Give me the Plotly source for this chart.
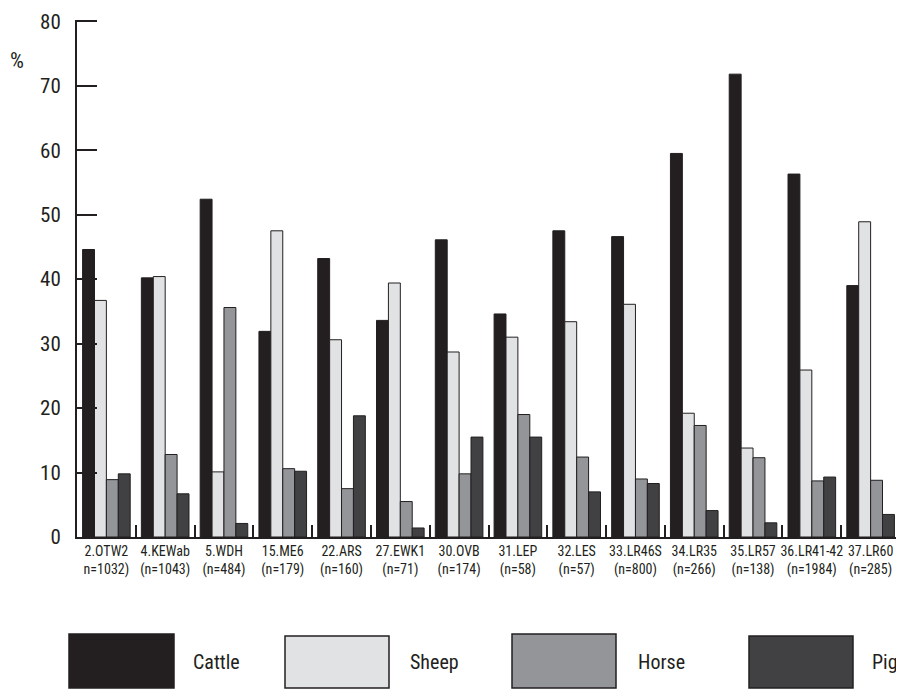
import plotly.graph_objects as go

sites = ["2.OTW2", "4.KEWab", "5.WDH", "15.ME6", "22.ARS", "27.EWK1", "30.OVB",
         "31.LEP", "32.LES", "33.LR46S", "34.LR35", "35.LR57", "36.LR41-42", "37.LR60"]
counts = ["n=1032)", "(n=1043)", "(n=484)", "(n=179)", "(n=160)", "(n=71)", "(n=174)",
          "(n=58)", "(n=57)", "(n=800)", "(n=266)", "(n=138)", "(n=1984)", "(n=285)"]

cattle = [44.6, 40.2, 52.4, 31.9, 43.2, 33.6, 46.1, 34.6, 47.5, 46.6, 59.5, 71.8, 56.3, 39.0]
sheep  = [36.7, 40.4, 10.1, 47.5, 30.6, 39.4, 28.7, 31.0, 33.4, 36.1, 19.2, 13.8, 25.9, 48.9]
horse  = [8.9, 12.8, 35.6, 10.6, 7.5, 5.5, 9.8, 19.0, 12.4, 9.0, 17.3, 12.3, 8.7, 8.8]
pig    = [9.8, 6.7, 2.1, 10.2, 18.8, 1.4, 15.5, 15.5, 7.0, 8.3, 4.1, 2.2, 9.3, 3.5]

series_names = ["Cattle", "Sheep", "Horse", "Pig"]
series_values = [cattle, sheep, horse, pig]
colors = ["#231f20", "#e1e2e4", "#939598", "#414042"]

y_ticks = [0, 10, 20, 30, 40, 50, 60, 70, 80]

cats = [f"{s}<br>{c}" for s, c in zip(sites, counts)]

FONT = "Liberation Sans Narrow, Roboto Condensed, Arial Narrow, Liberation Sans, sans-serif"
INK = "#231f20"

fig = go.Figure()
for name, vals, col in zip(series_names, series_values, colors):
    fig.add_trace(go.Bar(
        x=cats, y=vals, name=name,
        marker=dict(color=col, line=dict(color=INK, width=1)),
        showlegend=False,
    ))

# the page body has an 8px margin; work in page pixels and subtract it
OFF = 8
W, H = 904 - OFF, 693 - OFF
YMAX = 80.2
plot_left, plot_right, plot_bottom = 77 - OFF, 900 - OFF, 537 - OFF
ph = (537 - 11) * YMAX / 80
L, R, B = plot_left, W - plot_right, H - plot_bottom
T = plot_bottom - ph
pw = plot_right - plot_left


def px(x):
    return (x - OFF - L) / pw


def py(y):
    return (plot_bottom - (y - OFF)) / ph


shapes = []
annotations = []
legend_boxes = [(69, 174, 636, 691), (285, 389, 638, 691), (512, 616, 636, 691), (749, 853, 638, 691)]
legend_text_x = [191, 408, 636, 870]
for (x0, x1, y0, y1), tx, name, col in zip(legend_boxes, legend_text_x, series_names, colors):
    shapes.append(dict(type="rect", xref="paper", yref="paper",
                       x0=px(x0), x1=px(x1), y0=py(y1), y1=py(y0),
                       fillcolor=col, line=dict(color=INK, width=1.5)))
    annotations.append(dict(xref="paper", yref="paper", x=px(tx), y=py(665),
                            xanchor="left", yanchor="middle", showarrow=False,
                            text=name, font=dict(family=FONT, size=20, color=INK)))

annotations.append(dict(xref="paper", yref="paper", x=px(8), y=py(51),
                        xanchor="left", yanchor="middle", showarrow=False,
                        text="%", font=dict(family=FONT, size=22, color=INK)))

fig.update_layout(
    width=W, height=H,
    margin=dict(l=L, r=R, t=T, b=B, pad=0),
    paper_bgcolor="white", plot_bgcolor="white",
    barmode="group", bargap=0.19, bargroupgap=0,
    font=dict(family=FONT, color=INK),
    shapes=shapes, annotations=annotations,
)
fig.update_xaxes(
    type="category", showline=True, linecolor=INK, linewidth=2,
    ticks="inside", tickson="boundaries", ticklen=12, tickwidth=1.5, tickcolor=INK,
    showgrid=False, zeroline=False, range=[-0.5, 13.5],
    tickfont=dict(family=FONT, size=14, color=INK), tickangle=0,
)
fig.update_yaxes(
    range=[0, YMAX], tickvals=y_ticks, showline=True, linecolor=INK, linewidth=2,
    ticks="inside", ticklen=20, tickwidth=2, tickcolor=INK,
    showgrid=False, zeroline=False, ticklabelstandoff=10, ticklabeloverflow="allow",
    tickfont=dict(family=FONT, size=21, color=INK),
)

fig.write_html("out.html")
